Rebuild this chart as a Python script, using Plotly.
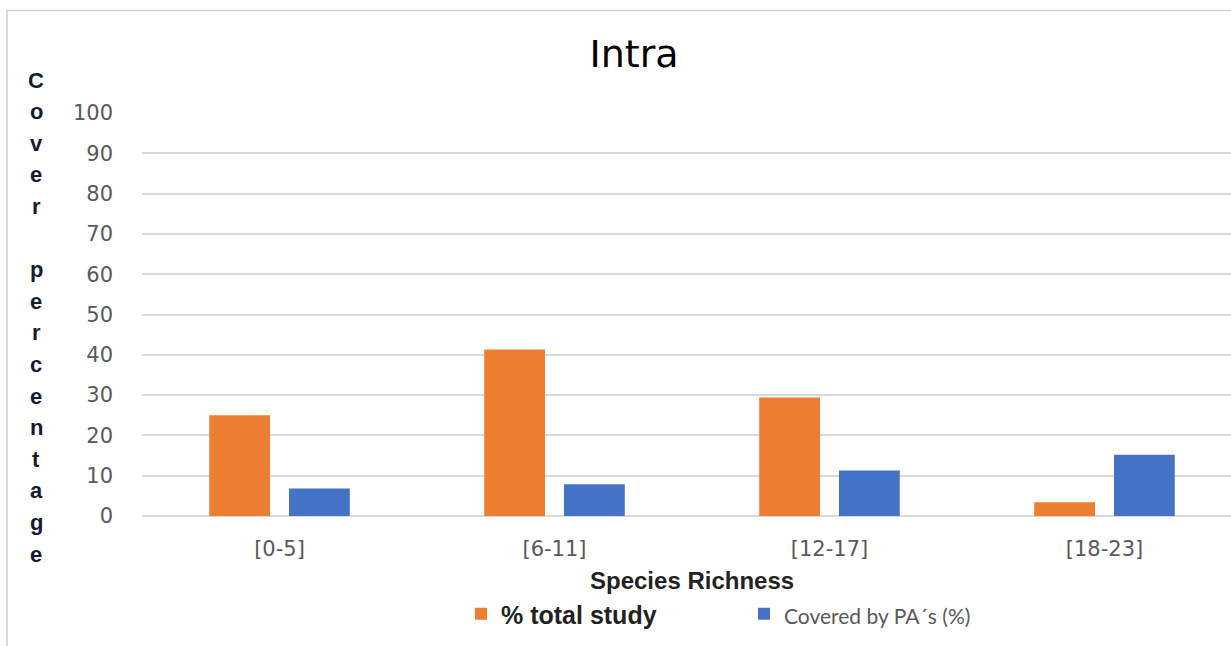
import plotly.graph_objects as go

# Species richness classes and the two series (percent)
categories = ["[0-5]", "[6-11]", "[12-17]", "[18-23]"]
total_study = [25, 41.3, 29.4, 3.4]
covered_by_pa = [6.8, 7.9, 11.3, 15.2]
y_ticks = [0, 10, 20, 30, 40, 50, 60, 70, 80, 90, 100]
y_title = "Cover percentage"

ORANGE = "#ED7D31"
BLUE = "#4472C4"
GRID = "#D9D9D9"
TICK = "#595959"

W, H = 1231, 646
M_L, M_R, M_T, M_B = 142, 0, 113, 130
PLOT_W = W - M_L - M_R
PLOT_H = H - M_T - M_B


def px_x(px):
    return (px - M_L) / PLOT_W


def px_y(py):
    return (H - M_B - py) / PLOT_H


fig = go.Figure()
fig.add_trace(go.Bar(
    x=categories, y=total_study,
    name="<b>% total study</b>",
    marker=dict(color=ORANGE, line=dict(width=0)),
))
fig.add_trace(go.Bar(
    x=categories, y=covered_by_pa,
    name="<span style='color:#595959;font-family:Lato;font-size:21px'>Covered by PA´s (%)</span>",
    marker=dict(color=BLUE, line=dict(width=0)),
))

fig.update_layout(
    width=W, height=H,
    margin=dict(l=M_L, r=M_R, t=M_T, b=M_B),
    paper_bgcolor="white", plot_bgcolor="white",
    barmode="group", bargap=0.42, bargroupgap=0.2375,
    title=dict(text="Intra", x=634 / W, xanchor="center", y=1 - 54 / H, yanchor="middle",
               font=dict(family="DejaVu Sans", size=38, color="black")),
    font=dict(family="DejaVu Sans", color=TICK),
    showlegend=True,
    legend=dict(orientation="h", x=px_x(461), xanchor="left", y=px_y(614), yanchor="middle",
                bgcolor="rgba(0,0,0,0)",
                font=dict(family="Liberation Sans", size=25, color="#222222"),
                itemwidth=30, entrywidthmode="pixels", entrywidth=238,
                traceorder="normal"),
)

fig.update_xaxes(
    type="category", range=[-0.5, 3.46],
    showgrid=False, showline=False, zeroline=False,
    ticks="", tickfont=dict(family="DejaVu Sans", size=21, color=TICK),
    ticklabelstandoff=18,
)
fig.update_yaxes(
    range=[0, 100], tickvals=y_ticks,
    showgrid=True, gridcolor=GRID, gridwidth=1.6,
    zeroline=True, zerolinecolor=GRID, zerolinewidth=1.6,
    showline=False, ticks="",
    tickfont=dict(family="DejaVu Sans", size=21, color=TICK),
    ticklabelstandoff=28,
)

# x-axis title centred under the middle of the category band
fig.add_annotation(
    text="<b>Species Richness</b>", xref="x", yref="paper",
    x=1.5, y=px_y(580), xanchor="center", yanchor="middle", showarrow=False,
    font=dict(family="Liberation Sans", size=24, color="#222222"),
)

# y-axis title written as a vertical column of letters
step = 31.6
top_px = 80
for i, ch in enumerate(y_title):
    if ch == " ":
        continue
    fig.add_annotation(
        text=f"<b>{ch}</b>", xref="paper", yref="paper",
        x=px_x(36), y=px_y(top_px + i * step),
        xanchor="center", yanchor="middle", showarrow=False,
        font=dict(family="Liberation Sans", size=22, color="#1a1a2e"),
    )

# chart frame
fig.add_shape(
    type="rect", xref="paper", yref="paper",
    x0=px_x(7), x1=px_x(W + 20),
    y0=px_y(660), y1=px_y(10.5),
    line=dict(color="#D0D0D0", width=1.5), fillcolor="rgba(0,0,0,0)", layer="below",
)

fig.write_html("out.html")
